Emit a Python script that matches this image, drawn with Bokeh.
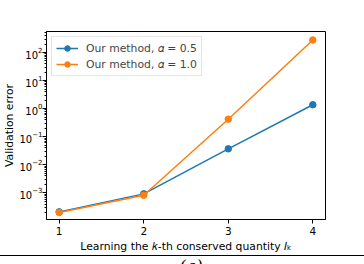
from bokeh.plotting import figure
from bokeh.models import Range1d, FixedTicker, Div, Legend, LegendItem
from bokeh.layouts import column
from bokeh.embed import file_html
from bokeh.resources import INLINE

k_values = [1, 2, 3, 4]
err_alpha_05 = [2.1e-4, 9.2e-4, 0.037, 1.38]
err_alpha_10 = [2.0e-4, 8.2e-4, 0.42, 280.0]
series_labels = ["Our method, 𝛼 = 0.5", "Our method, 𝛼 = 1.0"]
x_label = "Learning the 𝑘-th conserved quantity 𝐼ₖ"
y_label = "Validation error"
panel_label = "(a)"

FONT = "DejaVu Sans"
BLUE = "#1f77b4"
ORANGE = "#ff7f0e"

p = figure(width=364, height=255, y_axis_type="log",
           x_range=Range1d(0.85, 4.15), y_range=Range1d(10 ** -3.95, 10 ** 2.75),
           output_backend="svg", toolbar_location=None,
           min_border_left=46, min_border_right=39,
           min_border_top=31, min_border_bottom=36)

p.xgrid.visible = False
p.ygrid.visible = False
p.outline_line_color = "black"
p.outline_line_width = 1
p.background_fill_color = "white"
p.border_fill_color = "white"

items = []
for ys, col, lab in [(err_alpha_05, BLUE, series_labels[0]),
                     (err_alpha_10, ORANGE, series_labels[1])]:
    l = p.line(k_values, ys, line_color=col, line_width=1.5)
    c = p.scatter(k_values, ys, size=6.5, fill_color=col, line_color=col)
    items.append(LegendItem(label=lab, renderers=[l, c]))

leg = Legend(items=items, location="top_left", margin=5, padding=4,
             spacing=2, glyph_width=22, glyph_height=14, label_standoff=8,
             label_text_font=FONT, label_text_font_size="10.8px",
             label_height=14,
             border_line_color="#cccccc", border_line_width=1,
             background_fill_alpha=0.8)
p.add_layout(leg)

p.xaxis.ticker = FixedTicker(ticks=k_values)
for ax in (p.xaxis[0], p.yaxis[0]):
    ax.axis_line_color = "black"
    ax.major_tick_line_color = "black"
    ax.minor_tick_line_color = "black" if ax is p.yaxis[0] else None
    ax.major_tick_in = 0
    ax.major_tick_out = 4
    ax.minor_tick_in = 0
    ax.minor_tick_out = 2
    ax.major_label_text_font = FONT
    ax.major_label_text_font_size = "10.5px"
    ax.major_label_text_color = "black"
    ax.axis_label_text_font = FONT
    ax.axis_label_text_font_size = "10.8px"
    ax.axis_label_text_font_style = "normal"
    ax.axis_label_text_color = "black"

p.yaxis.major_label_text_font_size = "10px"
p.xaxis.axis_label = x_label
p.yaxis.axis_label = y_label
p.xaxis.axis_label_standoff = 2
p.yaxis.axis_label_standoff = 0
p.xaxis.major_label_standoff = 3
p.yaxis.major_label_standoff = 0

rule = Div(text=panel_label, width=364, height=9,
           styles={"border-top": "1.3px solid black", "margin": "0",
                   "overflow": "hidden", "text-align": "center",
                   "font-family": "DejaVu Serif", "font-style": "italic",
                   "font-size": "17px", "line-height": "20px",
                   "padding-left": "18px", "box-sizing": "border-box"})

layout = column(p, rule, spacing=0)

open("out.html", "w").write(file_html(layout, INLINE))
